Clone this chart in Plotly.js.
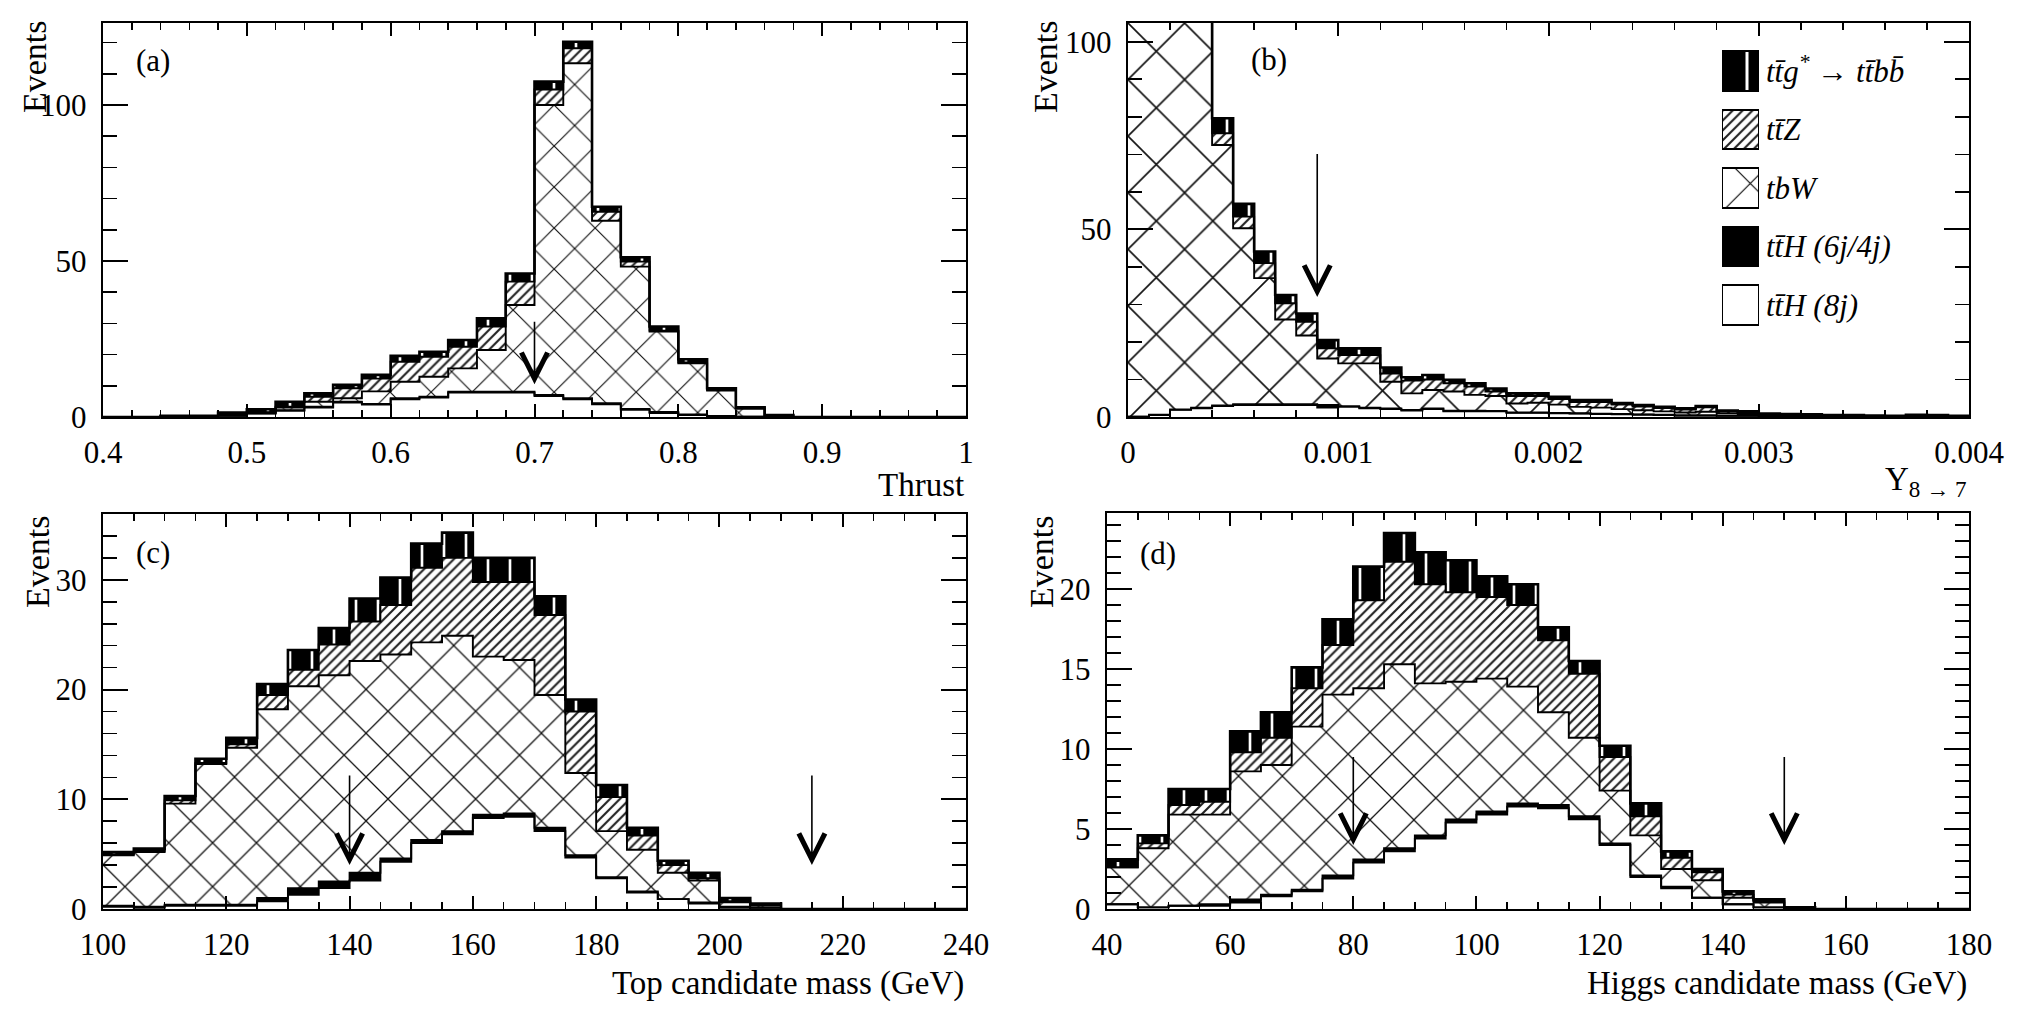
<!DOCTYPE html>
<html>
<head>
<meta charset="utf-8">
<script src="https://cdn.plot.ly/plotly-3.0.1.min.js"></script>
<style>
html,body{margin:0;padding:0;background:#fff;}
#chart{width:2028px;height:1012px;}
</style>
</head>
<body>
<div id="chart"></div>
<script>
// ================= DATA =================
// Component names (legend order, top of stack first)
const componentNames = [
  '<i>tt\u0304g<sup>*</sup> \u2192 tt\u0304bb\u0304</i>',
  '<i>tt\u0304Z</i>',
  '<i>tbW</i>',
  '<i>tt\u0304H (6j/4j)</i>',
  '<i>tt\u0304H (8j)</i>'
];
const legendKeyLength = [1, 1, 1, 1, 1];

// (a) Thrust, bins of 0.02 from 0.40 to 1.00
const thrustBinStart = 0.40, thrustBinWidth = 0.02;
const thrust_ttH8j = [0,0,0.1,0.1,0.4,1.1,2.0,3.0,4.6,4.0,5.7,6.2,7.8,7.8,7.8,6.7,5.7,4.1,2.3,1.3,0.6,0.2,0.1,0,0,0,0,0,0,0];
const thrust_ttH64 = [0,0,0,0,0,0.1,0.2,0.3,0.3,0.2,0.3,0.3,0.3,0.3,0.3,0.4,0.3,0.3,0.3,0.3,0.2,0.1,0,0,0,0,0,0,0,0];
const thrust_tbW   = [0,0,0.1,0.1,0.3,0.2,0.8,1.6,1.1,4.0,5.3,6.4,7.5,13.4,27.8,92.9,107.4,58.5,45.6,25.8,16.4,8.2,2.5,0.2,0,0,0,0,0,0];
const thrust_ttZ   = [0,0,0,0,0.1,0.1,0.3,1.6,3.2,4.1,6.4,6.4,6.9,7.5,7.5,5.0,4.8,2.9,1.6,0.3,0.3,0.2,0.3,0,0,0,0,0,0,0];
const thrust_ttg   = [0,0,0.2,0.2,0.6,1.0,1.6,1.1,1.1,1.2,1.9,1.6,2.2,2.6,2.6,2.5,2.1,1.6,1.4,1.3,1.0,0.5,0.2,0.4,0,0,0,0,0,0];
const thrustCuts = [0.70];
const thrustCutArrow = [31, 10.5];   // arrow from / to (Events)

// (b) Y 8->7, bins of 0.0001 from 0 to 0.004
const y87BinStart = 0, y87BinWidth = 0.0001;
const y87_ttH8j = [0.1,0.5,1.9,2.3,2.9,3.2,3.2,3.2,3.2,2.5,2.7,2.3,2.1,1.7,2.1,1.5,1.5,1.5,1.1,1.1,1.0,0.9,0.8,0.7,0.6,0.5,0.4,0.4,0.3,0.3,0.2,0.1,0.1,0.1,0.1,0.1,0,0.1,0.1,0];
const y87_ttH64 = [0,0.1,0.1,0.2,0.2,0.2,0.2,0.2,0.2,0.7,0.2,0.2,0.2,0.2,0.2,0.2,0.2,0.1,0.1,0.1,0.1,0.1,0.1,0.1,0.1,0.1,0,0,0,0,0,0,0,0,0,0,0,0,0,0];
const y87_tbW   = [420,260,175,125,69.4,46.9,33.6,22.6,18.3,12.4,11.4,11.8,7.1,4.4,4.9,5.1,4.2,4.0,2.4,2.6,2.2,1.7,1.6,1.3,1.1,0.9,0.8,1.0,0.6,0.5,0.3,0.3,0.3,0.2,0.2,0.1,0.1,0.2,0.2,0.1];
const y87_ttZ   = [9,7,6,5,3.1,3.1,4.0,4.3,3.7,2.7,2.2,2.2,2.2,3.4,2.8,2.2,2.2,1.2,2.0,1.8,1.5,1.3,1.5,1.2,1.0,0.9,0.8,1.2,0.5,0.4,0.2,0.2,0.1,0.1,0.1,0.1,0.1,0.1,0.1,0.1];
const y87_ttg   = [12,9,7,6,4.0,3.4,3.1,2.2,2.2,2.2,1.8,1.8,1.6,0.9,1.2,0.9,0.9,0.8,0.7,0.7,0.6,0.5,0.5,0.4,0.4,0.3,0.3,0.3,0.3,0.3,0.2,0.2,0.2,0.1,0.1,0.1,0.1,0.2,0.1,0.1];
const y87Cuts = [0.0009];
const y87CutArrow = [70.5, 32];

// (c) Top candidate mass, bins of 5 GeV from 100 to 240
const mtopBinStart = 100, mtopBinWidth = 5;
const mtop_ttH8j = [0.2,0.1,0.3,0.3,0.3,0.7,1.3,1.9,2.6,4.3,6.0,6.8,8.3,8.4,7.1,4.7,2.8,1.5,0.9,0.5,0.1,0.1,0,0,0,0,0,0];
const mtop_ttH64 = [0.1,0.1,0.1,0.1,0.1,0.3,0.6,0.6,0.7,0.3,0.3,0.3,0.3,0.3,0.3,0.2,0.1,0.1,0,0.1,0.1,0,0,0,0,0,0,0];
const mtop_tbW   = [4.6,5.0,9.2,12.8,14.3,17.2,18.4,18.8,19.3,18.6,18.0,17.8,14.4,14.0,12.1,7.5,4.2,3.8,2.4,2.0,0.4,0.2,0,0,0,0,0,0];
const mtop_ttZ   = [0.1,0.1,0.3,0.1,0.3,1.3,1.5,2.8,3.6,4.5,6.8,7.1,6.8,7.1,7.3,5.6,3.1,1.3,0.7,0.2,0.1,0.1,0,0,0,0,0,0];
const mtop_ttg   = [0.2,0.2,0.4,0.4,0.6,1.0,1.8,1.5,2.1,2.5,2.2,2.3,2.2,2.2,1.7,1.1,1.1,0.7,0.4,0.5,0.3,0.1,0,0,0,0,0,0];
const mtopCuts = [140, 215];
const mtopCutArrow = [12.3, 4.0];

// (d) Higgs candidate mass, bins of 5 GeV from 40 to 180
const mhigBinStart = 40, mhigBinWidth = 5;
const mhig_ttH8j = [0.3,0.1,0.2,0.2,0.4,0.8,1.1,1.9,2.9,3.6,4.4,5.4,5.9,6.4,6.3,5.6,4.0,2.0,1.3,0.7,0.3,0.1,0,0,0,0,0,0];
const mhig_ttH64 = [0,0,0,0.1,0.2,0.1,0.1,0.2,0.2,0.2,0.2,0.2,0.2,0.2,0.2,0.2,0.1,0.1,0.1,0,0,0,0,0,0,0,0,0];
const mhig_tbW   = [2.3,3.7,5.7,5.6,8.0,8.1,10.2,11.3,10.7,11.5,9.5,8.6,8.3,7.3,5.8,4.9,3.3,2.5,1.1,1.1,0.4,0.3,0,0,0,0,0,0];
const mhig_ttZ   = [0,0.3,0.6,0.8,1.2,1.7,2.4,3.1,5.5,6.4,6.2,5.6,5.1,5.1,4.5,4.0,2.1,1.2,0.7,0.5,0.2,0.1,0,0,0,0,0,0];
const mhig_ttg   = [0.5,0.5,1.0,0.8,1.3,1.6,1.3,1.6,2.1,1.8,2.0,2.0,1.3,1.3,0.8,0.8,0.7,0.8,0.4,0.2,0.2,0.1,0.1,0,0,0,0,0];
const mhigCuts = [80, 150];
const mhigCutArrow = [9.6, 4.0];

// Tick labels
const y87TickVals = [0, 0.001, 0.002, 0.003, 0.004];
const y87TickText = ['0', '0.001', '0.002', '0.003', '0.004'];

// ================= STYLE / LAYOUT =================
const FONT = 'Liberation Serif, Times New Roman, serif';
const W = 2028, H = 1012;
const px = v => v / W;
const py = v => 1 - v / H;

const panels = [
  { xa:'x',  ya:'y',  start: thrustBinStart, width: thrustBinWidth,
    comps:[thrust_ttH8j, thrust_ttH64, thrust_tbW, thrust_ttZ, thrust_ttg],
    xbox:[103,966], ybox:[23,417], xrange:[0.4,1.0], yrange:[0,126.3],
    xdtick:0.1, xtick0:0.4, xminor:0.02, ydtick:50, yminor:10,
    cuts: thrustCuts, arrow: thrustCutArrow, cross: 29, tag:'(a)', tagPos:[153,61],
    xtitle:'Thrust', xtitlePos:[966,485], ytitlePos:[35,67] },
  { xa:'x2', ya:'y2', start: y87BinStart, width: y87BinWidth,
    comps:[y87_ttH8j, y87_ttH64, y87_tbW, y87_ttZ, y87_ttg],
    xbox:[1128,1969], ybox:[23,417], xrange:[0,0.004], yrange:[0,105],
    xtickvals: y87TickVals, xticktext: y87TickText, xminor:0.0002, ydtick:50, yminor:10,
    cuts: y87Cuts, arrow: y87CutArrow, cross: 40, tag:'(b)', tagPos:[1269,59],
    xtitle:'Y<sub>8 \u2192 7</sub>', xtitlePos:[1969,481], ytitlePos:[1046,67] },
  { xa:'x3', ya:'y3', start: mtopBinStart, width: mtopBinWidth,
    comps:[mtop_ttH8j, mtop_ttH64, mtop_tbW, mtop_ttZ, mtop_ttg],
    xbox:[103,966], ybox:[514,909], xrange:[100,240], yrange:[0,36],
    xdtick:20, xtick0:100, xminor:5, ydtick:10, yminor:2,
    cuts: mtopCuts, arrow: mtopCutArrow, cross: 31, tag:'(c)', tagPos:[153,552],
    xtitle:'Top candidate mass (GeV)', xtitlePos:[966,983], ytitlePos:[37,562] },
  { xa:'x4', ya:'y4', start: mhigBinStart, width: mhigBinWidth,
    comps:[mhig_ttH8j, mhig_ttH64, mhig_tbW, mhig_ttZ, mhig_ttg],
    xbox:[1107,1969], ybox:[513,909], xrange:[40,180], yrange:[0,24.75],
    xdtick:20, xtick0:40, xminor:5, ydtick:5, yminor:1,
    cuts: mhigCuts, arrow: mhigCutArrow, cross: 31, tag:'(d)', tagPos:[1158,553],
    xtitle:'Higgs candidate mass (GeV)', xtitlePos:[1969,983], ytitlePos:[1041,562] }
];

// ci: 0 ttH(8j), 1 ttH(6j/4j), 2 tbW, 3 ttZ, 4 ttg*  (stack order, bottom first)
function markerFor(ci, cross, key) {
  switch (ci) {
    case 0: return { color:'#ffffff' };
    case 1: return { color:'#000000' };
    case 2: return { color:'#ffffff', pattern:{ shape:'x', size: key ? 40 : cross, solidity: key ? 0.06 : 0.08, fgcolor:'#111111', bgcolor:'#ffffff' } };
    case 3: return { color:'#ffffff', pattern:{ shape:'/', size: 7, solidity: 0.3, fgcolor:'#222222', bgcolor:'#ffffff' } };
    case 4: return { color:'#000000', pattern:{ shape:'|', size: key ? 50 : 22, solidity: key ? 0.06 : 0.12, fgcolor:'#ffffff', bgcolor:'#000000' } };
  }
}

const traces = [];
const layout = {
  width: W, height: H,
  margin: { l:0, r:0, t:0, b:0 },
  paper_bgcolor: '#ffffff', plot_bgcolor: '#ffffff',
  barmode: 'stack',
  font: { family: FONT, color:'#000', size: 30 },
  showlegend: false,
  annotations: []
};

panels.forEach((p, k) => {
  const n = p.comps[0].length;
  const centers = Array.from({ length:n }, (_, i) => p.start + (i + 0.5) * p.width);
  const edges = Array.from({ length:n + 1 }, (_, i) => p.start + i * p.width);

  // stacked filled bars
  p.comps.forEach((vals, ci) => {
    traces.push({
      type:'bar', x: centers, y: vals, width: p.width,
      xaxis: p.xa, yaxis: p.ya,
      marker: Object.assign(markerFor(ci, p.cross, false), { line:{ width:0 } }),
      showlegend:false, hoverinfo:'skip'
    });
  });
  // step outlines of each cumulative level
  let cum = new Array(n).fill(0);
  p.comps.forEach((vals, ci) => {
    cum = cum.map((c, i) => c + vals[i]);
    traces.push({
      type:'scatter', mode:'lines', x: edges, y: cum.concat([cum[n - 1]]),
      xaxis: p.xa, yaxis: p.ya,
      line:{ shape:'hv', color:'#000', width: ci === 4 ? 2.6 : 1.9 },
      showlegend:false, hoverinfo:'skip'
    });
  });

  const sfx = k === 0 ? '' : String(k + 1);
  const xaxis = {
    domain:[px(p.xbox[0]), px(p.xbox[1])], range: p.xrange, anchor: p.ya,
    showline:true, linecolor:'#000', linewidth:2.4, mirror:'ticks',
    ticks:'inside', ticklen:13, tickwidth:2, tickcolor:'#000',
    showgrid:false, zeroline:false, fixedrange:true,
    tickfont:{ family: FONT, size:31, color:'#000' }, ticklabelstandoff: 6,
    minor:{ ticks:'inside', ticklen:7, tickwidth:1.6, tickcolor:'#000', dtick: p.xminor, tick0: p.start, showgrid:false }
  };
  if (p.xtickvals) { xaxis.tickmode = 'array'; xaxis.tickvals = p.xtickvals; xaxis.ticktext = p.xticktext; }
  else { xaxis.tickmode = 'linear'; xaxis.dtick = p.xdtick; xaxis.tick0 = p.xtick0; }
  const yaxis = {
    domain:[py(p.ybox[1]), py(p.ybox[0])], range: p.yrange, anchor: p.xa,
    showline:true, linecolor:'#000', linewidth:2.4, mirror:'ticks',
    ticks:'inside', ticklen:25, tickwidth:2, tickcolor:'#000',
    tickmode:'linear', dtick: p.ydtick, tick0: 0,
    showgrid:false, zeroline:false, fixedrange:true,
    tickfont:{ family: FONT, size:31, color:'#000' }, ticklabelstandoff: 8,
    minor:{ ticks:'inside', ticklen:14, tickwidth:1.6, tickcolor:'#000', dtick: p.yminor, tick0: 0, showgrid:false }
  };
  layout['xaxis' + sfx] = xaxis;
  layout['yaxis' + sfx] = yaxis;

  // cut arrows
  p.cuts.forEach(c => {
    layout.annotations.push({
      xref: p.xa, yref: p.ya, axref: p.xa, ayref: p.ya,
      x: c, y: p.arrow[1], ax: c, ay: p.arrow[0],
      text:'', showarrow:true, arrowhead:5, arrowsize:3.2, arrowwidth:1.6,
      arrowcolor:'#000', standoff:0
    });
  });
  // panel tag
  layout.annotations.push({
    xref:'paper', yref:'paper', x: px(p.tagPos[0]), y: py(p.tagPos[1]),
    xanchor:'center', yanchor:'middle', text: p.tag, showarrow:false,
    font:{ family: FONT, size:31, color:'#000' }
  });
  // x title (right-aligned under axis)
  layout.annotations.push({
    xref:'paper', yref:'paper', x: px(p.xtitlePos[0]), y: py(p.xtitlePos[1]),
    xanchor:'right', yanchor:'middle', text: p.xtitle, showarrow:false,
    font:{ family: FONT, size:33, color:'#000' }
  });
  // y title
  layout.annotations.push({
    xref:'paper', yref:'paper', x: px(p.ytitlePos[0]), y: py(p.ytitlePos[1]),
    xanchor:'center', yanchor:'middle', text:'Events', textangle:-90, showarrow:false,
    font:{ family: FONT, size:34, color:'#000' }
  });
});

// ---- key (legend) inside panel (b): large pattern swatches + italic labels ----
[4, 3, 2, 1, 0].forEach((ci, j) => {
  traces.push({
    type:'bar', orientation:'h', x: [legendKeyLength[j]], y: [componentNames[j]],
    xaxis:'x5', yaxis:'y5', width: 0.68, showlegend:false, hoverinfo:'skip',
    marker: Object.assign(markerFor(ci, 40, true), { line:{ color:'#000', width:2 } })
  });
});
layout.xaxis5 = { domain:[px(1722), px(1759)], range:[0,1], anchor:'y5', visible:false, fixedrange:true };
layout.yaxis5 = {
  domain:[py(334), py(42)], anchor:'x5', type:'category', autorange:'reversed',
  side:'right', showline:false, showgrid:false, zeroline:false, ticks:'', fixedrange:true,
  tickfont:{ family: FONT, size:31, color:'#000', style:'italic' }, ticklabelstandoff: 6
};

Plotly.newPlot('chart', traces, layout, { staticPlot:true, displayModeBar:false });
</script>
</body>
</html>
